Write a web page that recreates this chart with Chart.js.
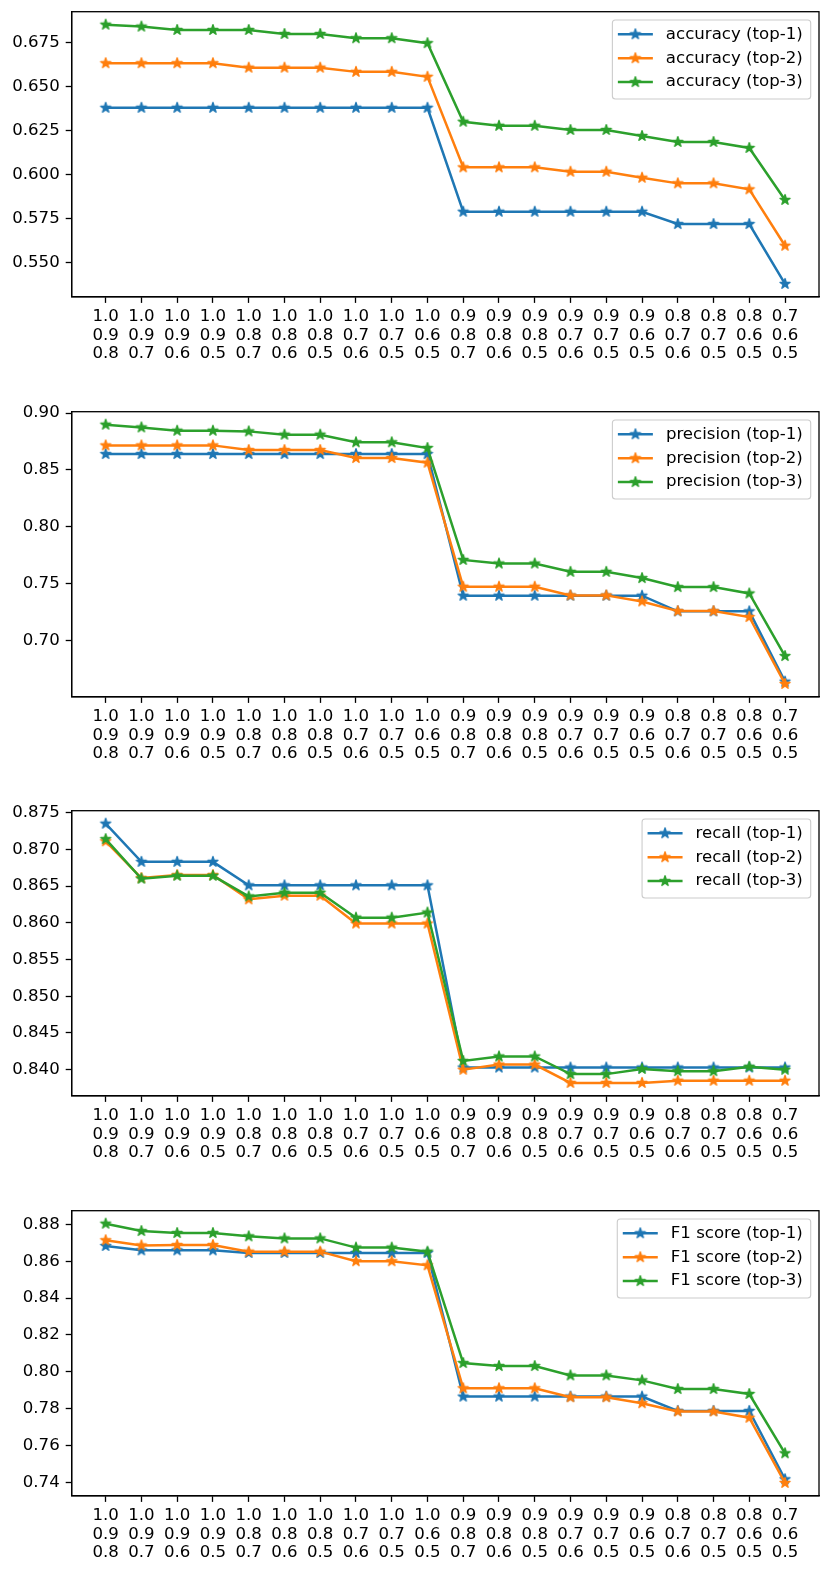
<!DOCTYPE html>
<html>
<head>
<meta charset="utf-8">
<script src="https://cdn.jsdelivr.net/npm/chart.js@4"></script>
<style>
  html, body { margin: 0; padding: 0; background: #ffffff; }
  body { width: 831px; height: 1574px; position: relative; overflow: hidden; }
  .panel { position: absolute; left: 0; width: 831px; height: 375px; }
  canvas { display: block; }
</style>
</head>
<body>
<div class="panel" style="top:0px"><canvas id="c0" width="831" height="375"></canvas></div>
<div class="panel" style="top:399.6px"><canvas id="c1" width="831" height="375"></canvas></div>
<div class="panel" style="top:799px"><canvas id="c2" width="831" height="375"></canvas></div>
<div class="panel" style="top:1199px"><canvas id="c3" width="831" height="375"></canvas></div>
<script>
// ---------------- DATA ----------------
const categories = [
  ["1.0","0.9","0.8"], ["1.0","0.9","0.7"], ["1.0","0.9","0.6"], ["1.0","0.9","0.5"],
  ["1.0","0.8","0.7"], ["1.0","0.8","0.6"], ["1.0","0.8","0.5"], ["1.0","0.7","0.6"],
  ["1.0","0.7","0.5"], ["1.0","0.6","0.5"], ["0.9","0.8","0.7"], ["0.9","0.8","0.6"],
  ["0.9","0.8","0.5"], ["0.9","0.7","0.6"], ["0.9","0.7","0.5"], ["0.9","0.6","0.5"],
  ["0.8","0.7","0.6"], ["0.8","0.7","0.5"], ["0.8","0.6","0.5"], ["0.7","0.6","0.5"]
];

const accuracyTop1 = [0.638,0.638,0.638,0.638,0.638,0.638,0.638,0.638,0.638,0.638,0.579,0.579,0.579,0.579,0.579,0.579,0.572,0.572,0.572,0.538];
const accuracyTop2 = [0.6633,0.6633,0.6633,0.6633,0.6608,0.6608,0.6608,0.6584,0.6584,0.6556,0.6042,0.6042,0.6042,0.6017,0.6017,0.5983,0.5951,0.5951,0.5917,0.5597];
const accuracyTop3 = [0.6852,0.6841,0.6822,0.6822,0.6822,0.6799,0.6799,0.6775,0.6775,0.6747,0.6301,0.6278,0.6278,0.6254,0.6254,0.6220,0.6186,0.6186,0.6152,0.5857];

const precisionTop1 = [0.864,0.864,0.864,0.864,0.864,0.864,0.864,0.864,0.864,0.864,0.7395,0.7395,0.7395,0.7395,0.7395,0.7395,0.7258,0.7258,0.7258,0.664];
const precisionTop2 = [0.8716,0.8716,0.8716,0.8716,0.8675,0.8675,0.8675,0.8605,0.8605,0.8564,0.7474,0.7474,0.7474,0.7398,0.7398,0.7345,0.726,0.726,0.7208,0.662];
const precisionTop3 = [0.8898,0.8874,0.8845,0.8845,0.8839,0.881,0.881,0.8743,0.8743,0.8693,0.771,0.7678,0.7678,0.7605,0.7605,0.755,0.7471,0.7471,0.7415,0.6865];

const recallTop1 = [0.8735,0.8683,0.8683,0.8683,0.8651,0.8651,0.8651,0.8651,0.8651,0.8651,0.8403,0.8403,0.8403,0.8403,0.8403,0.8403,0.8403,0.8403,0.8403,0.8403];
const recallTop2 = [0.8711,0.8661,0.8665,0.8665,0.8632,0.8637,0.8637,0.8599,0.8599,0.8599,0.8400,0.8407,0.8407,0.8382,0.8382,0.8382,0.8385,0.8385,0.8385,0.8385];
const recallTop3 = [0.8714,0.8660,0.8664,0.8664,0.8636,0.8641,0.8641,0.8607,0.8607,0.8614,0.8412,0.8418,0.8418,0.8394,0.8394,0.8401,0.8398,0.8398,0.8404,0.8400];

const f1Top1 = [0.8683,0.8659,0.8659,0.8659,0.8645,0.8645,0.8645,0.8645,0.8645,0.8645,0.7865,0.7865,0.7865,0.7865,0.7865,0.7865,0.7787,0.7787,0.7787,0.7416];
const f1Top2 = [0.8714,0.8686,0.8688,0.8688,0.8652,0.8652,0.8652,0.8600,0.8600,0.8578,0.7910,0.7910,0.7910,0.7861,0.7861,0.7829,0.7784,0.7784,0.7750,0.7396];
const f1Top3 = [0.8804,0.8764,0.8753,0.8753,0.8735,0.8724,0.8724,0.8674,0.8674,0.8652,0.8047,0.8031,0.8031,0.7980,0.7980,0.7953,0.7906,0.7906,0.7879,0.7557];

const accuracyTicks  = [0.550, 0.575, 0.600, 0.625, 0.650, 0.675];
const precisionTicks = [0.70, 0.75, 0.80, 0.85, 0.90];
const recallTicks    = [0.840, 0.845, 0.850, 0.855, 0.860, 0.865, 0.870, 0.875];
const f1Ticks        = [0.74, 0.76, 0.78, 0.80, 0.82, 0.84, 0.86, 0.88];

const seriesSuffixes = ["(top-1)", "(top-2)", "(top-3)"];
const colors = ["#1f77b4", "#ff7f0e", "#2ca02c"];

// ---------------- RENDERING ----------------
const FONT = "'DejaVu Sans', sans-serif";
const FS = 16.6;

function makeStar(color) {
  const c = document.createElement('canvas');
  c.width = 16; c.height = 16;
  const g = c.getContext('2d');
  const cx = 8, cy = 8, R = 5.2, r = R * 0.382;
  g.beginPath();
  for (let i = 0; i < 10; i++) {
    const rad = (i % 2 === 0) ? R : r;
    const a = -Math.PI / 2 + i * Math.PI / 5;
    const px = cx + rad * Math.cos(a), py = cy + rad * Math.sin(a);
    if (i === 0) g.moveTo(px, py); else g.lineTo(px, py);
  }
  g.closePath();
  g.fillStyle = color; g.fill();
  g.lineWidth = 1.5; g.lineJoin = 'round'; g.strokeStyle = color; g.stroke();
  return c;
}
const stars = colors.map(makeStar);

const frameAndLegend = {
  id: 'frameAndLegend',
  afterDatasetsDraw(chart) {
    const { ctx, chartArea: a } = chart;
    ctx.save();
    ctx.strokeStyle = '#000'; ctx.lineWidth = 1.3;
    ctx.strokeRect(a.left, a.top, a.right - a.left, a.bottom - a.top);
    // legend
    ctx.font = FS + 'px ' + FONT;
    const labels = chart.data.datasets.map(d => d.label);
    const tw = Math.max(...labels.map(l => ctx.measureText(l).width));
    const padL = 5.5, handle = 35, gap = 13, padR = 8;
    const boxW = padL + handle + gap + tw + padR;
    const boxH = 79;
    const bx = a.right - 8.3 - boxW, by = a.top + 8.3;
    const rr = 3;
    ctx.beginPath();
    ctx.moveTo(bx + rr, by);
    ctx.lineTo(bx + boxW - rr, by); ctx.quadraticCurveTo(bx + boxW, by, bx + boxW, by + rr);
    ctx.lineTo(bx + boxW, by + boxH - rr); ctx.quadraticCurveTo(bx + boxW, by + boxH, bx + boxW - rr, by + boxH);
    ctx.lineTo(bx + rr, by + boxH); ctx.quadraticCurveTo(bx, by + boxH, bx, by + boxH - rr);
    ctx.lineTo(bx, by + rr); ctx.quadraticCurveTo(bx, by, bx + rr, by);
    ctx.closePath();
    ctx.fillStyle = 'rgba(255,255,255,0.8)'; ctx.fill();
    ctx.strokeStyle = '#cccccc'; ctx.lineWidth = 1.1; ctx.stroke();
    chart.data.datasets.forEach((d, i) => {
      const y = by + 14.3 + i * 23.9;
      const x0 = bx + padL;
      ctx.strokeStyle = d.borderColor; ctx.lineWidth = 2.5; ctx.lineCap = 'butt';
      ctx.beginPath(); ctx.moveTo(x0, y); ctx.lineTo(x0 + handle, y); ctx.stroke();
      const s = stars[i];
      ctx.drawImage(s, x0 + handle / 2 - s.width / 2, y - s.height / 2);
      ctx.fillStyle = '#000'; ctx.textBaseline = 'middle'; ctx.textAlign = 'left';
      ctx.fillText(d.label, x0 + handle + gap, y);
    });
    ctx.restore();
  }
};

function makeChart(id, name, series, ticks, decimals) {
  let lo = Infinity, hi = -Infinity;
  series.forEach(s => s.forEach(v => { lo = Math.min(lo, v); hi = Math.max(hi, v); }));
  const m = (hi - lo) * 0.05;
  const datasets = series.map((s, i) => ({
    label: name + ' ' + seriesSuffixes[i],
    data: s.map((v, k) => ({ x: k, y: v })),
    borderColor: colors[i],
    backgroundColor: colors[i],
    borderWidth: 2.5,
    pointStyle: stars[i],
    pointRadius: 6,
    pointHoverRadius: 6,
    tension: 0,
    order: 2 - i,
    clip: false
  }));
  return new Chart(document.getElementById(id), {
    type: 'line',
    data: { datasets },
    options: {
      responsive: false,
      animation: false,
      devicePixelRatio: window.devicePixelRatio || 1,
      layout: { padding: { top: 11.7, right: 12, left: 0, bottom: 0 } },
      plugins: { legend: { display: false }, tooltip: { enabled: false } },
      scales: {
        x: {
          type: 'linear',
          min: -0.95, max: 19.95,
          afterBuildTicks: sc => { sc.ticks = categories.map((c, k) => ({ value: k })); },
          afterFit: sc => {
            sc.height = 375 - 11.7 - 285.2;
            sc.paddingLeft = 0; sc.paddingRight = 0; sc.paddingTop = 0; sc.paddingBottom = 0;
          },
          ticks: {
            autoSkip: false, maxRotation: 0, minRotation: 0,
            padding: 4.6, color: '#000',
            font: { family: FONT, size: FS, lineHeight: 1.12 },
            callback: (v) => categories[Math.round(v)]
          },
          grid: { display: true, drawOnChartArea: false, drawTicks: true, tickLength: 6, tickColor: '#000', tickWidth: 1.3 },
          border: { display: true, color: '#000', width: 1.3 }
        },
        y: {
          type: 'linear',
          min: lo - m, max: hi + m,
          afterBuildTicks: sc => { sc.ticks = ticks.map(v => ({ value: v })); },
          afterFit: sc => {
            sc.width = 71.7;
            sc.paddingLeft = 0; sc.paddingRight = 0; sc.paddingTop = 0; sc.paddingBottom = 0;
          },
          ticks: {
            padding: 6, color: '#000',
            font: { family: FONT, size: FS },
            callback: (v) => Number(v).toFixed(decimals)
          },
          grid: { display: true, drawOnChartArea: false, drawTicks: true, tickLength: 6, tickColor: '#000', tickWidth: 1.3 },
          border: { display: true, color: '#000', width: 1.3 }
        }
      }
    },
    plugins: [frameAndLegend]
  });
}

makeChart('c0', 'accuracy', [accuracyTop1, accuracyTop2, accuracyTop3], accuracyTicks, 3);
makeChart('c1', 'precision', [precisionTop1, precisionTop2, precisionTop3], precisionTicks, 2);
makeChart('c2', 'recall', [recallTop1, recallTop2, recallTop3], recallTicks, 3);
makeChart('c3', 'F1 score', [f1Top1, f1Top2, f1Top3], f1Ticks, 2);
</script>
</body>
</html>
